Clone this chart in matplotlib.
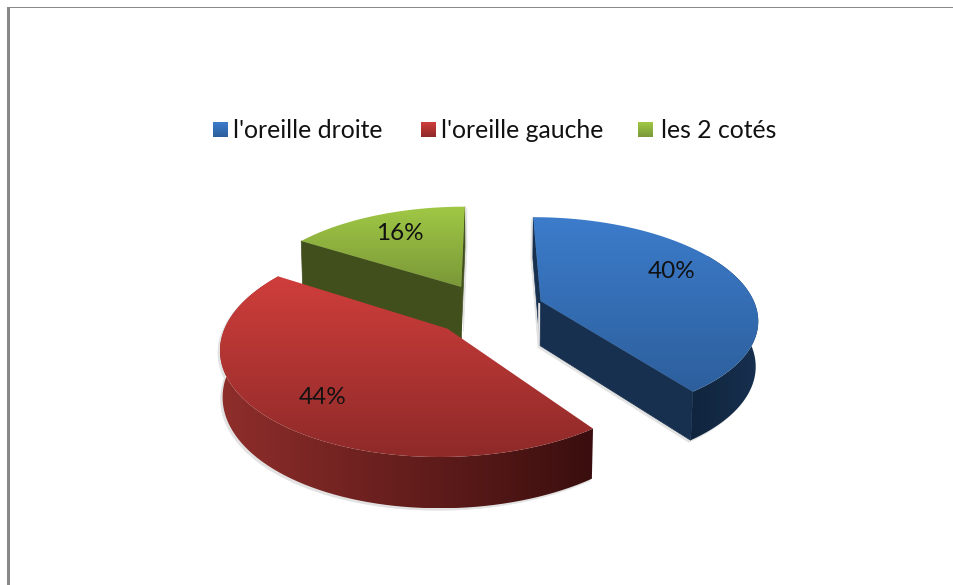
import numpy as np
import matplotlib
matplotlib.use("Agg")
import matplotlib.pyplot as plt
from matplotlib.colors import LinearSegmentedColormap
from matplotlib.patches import Polygon, Rectangle

labels = ["l'oreille droite", "l'oreille gauche", "les 2 cotés"]
values = [40, 44, 16]

plt.rcParams["font.family"] = ["Lato", "DejaVu Sans"]

# projection of the pie plane onto the picture, in pixels
CX, CY = 487.5, 309
RX, RY = 216, 100
PERSP = 0.164
EXPLODE = 0.262
HEIGHT = 45


def project(x, y):
    s = 1 / (1 + PERSP * y)
    return CX + RX * x * s, CY - RY * y * s, s


def rim(theta, off):
    t = np.radians(theta)
    return project(off[0] + np.sin(t), off[1] + np.cos(t))


def drop(sx, sy, s, extra=0):
    return sx - 2 * (sx - CX) / 218 * s, sy + HEIGHT * s ** 0.6 + extra


def gradient(ax, poly, colors, vertical=True):
    cmap = LinearSegmentedColormap.from_list("g", colors)
    ramp = np.linspace(0, 1, 256)
    img = ramp[:, None] if vertical else ramp[None, :]
    x0, y0 = poly.min(axis=0)
    x1, y1 = poly.max(axis=0)
    im = ax.imshow(img, cmap=cmap, origin="upper", aspect="auto",
                   extent=(x0, x1, y1, y0), interpolation="bilinear", zorder=ax.zcount)
    clip = Polygon(poly, closed=True, transform=ax.transData, fc="none", ec="none")
    ax.add_patch(clip)
    im.set_clip_path(clip)
    ax.zcount += 1


def flat(ax, poly, color):
    ax.add_patch(Polygon(poly, closed=True, fc=color, ec=color, lw=0.5, zorder=ax.zcount))
    ax.zcount += 1


def wall(off, theta, extra=0):
    ax0, ay0, s0 = project(off[0], off[1])
    ax1, ay1, s1 = rim(theta, off)
    b0 = drop(ax0, ay0, s0, extra)
    b1 = drop(ax1, ay1, s1, extra)
    return np.array([(ax0, ay0), (ax1, ay1), b1, b0])


def rim_band(off, t0, t1):
    th = np.linspace(t0, t1, 80)
    sx, sy, s = rim(th, off)
    bx, by = drop(sx, sy, s)
    return np.vstack([np.c_[sx, sy], np.c_[bx, by][::-1]])


def top_face(off, t0, t1):
    th = np.linspace(t0, t1, 120)
    sx, sy, s = rim(th, off)
    ax0, ay0, _ = project(off[0], off[1])
    return np.vstack([[(ax0, ay0)], np.c_[sx, sy]])


fig = plt.figure(figsize=(9.54, 5.85), dpi=100)
ax = fig.add_axes([0, 0, 1, 1])
ax.zcount = 3

# slice angles, clockwise from the back of the pie
edges = np.cumsum([0] + values) * 3.6
bounds = list(zip(edges[:-1], edges[1:]))
offsets = []
for t0, t1 in bounds:
    mid = np.radians((t0 + t1) / 2)
    offsets.append((EXPLODE * np.sin(mid), EXPLODE * np.cos(mid)))

top_colors = [["#3c7ccb", "#2d5f9c"], ["#cf3e3b", "#8e2a29"], ["#a0c845", "#7a9838"]]
rim_colors = [["#10253d", "#17304f"], ["#8f2e2b", "#3a0e0e"], ["#414f1c", "#414f1c"]]
cut_colors = ["#17304f", "#5a1a18", "#414f1c"]
SHADOW = "#e2e2e2"

# far slices first so the red one sits over the green wall
for i in [2, 0, 1]:
    t0, t1 = bounds[i]
    off = offsets[i]

    band = rim_band(off, t0 + 60, t1) if i == 0 else rim_band(off, t0, t1)
    if i != 2:
        flat(ax, band + (-2, 2), SHADOW)
        gradient(ax, band, rim_colors[i], vertical=False)
    if i == 0:
        w = wall(off, t0)
        flat(ax, w + (-2, 1), SHADOW)
        flat(ax, w, cut_colors[0])
        w = wall(off, t1)
        flat(ax, w + (-2, 2), SHADOW)
        flat(ax, w, cut_colors[0])
    if i == 2:
        flat(ax, wall(off, t1) + (2, 1), SHADOW)
        flat(ax, wall(off, t1), cut_colors[2])
        flat(ax, wall(off, t0, extra=8), cut_colors[2])

    gradient(ax, top_face(off, t0, t1), top_colors[i])

# percentage labels
pct_pos = [(672, 272), (323, 397), (400, 233)]
for v, (x, y) in zip(values, pct_pos):
    ax.text(x, y, f"{v}%", ha="center", va="center", fontsize=17.5, color="#111111", zorder=50)

# legend
swatch_x = [213, 421, 638]
text_x = [233, 441, 661]
for i, lab in enumerate(labels):
    sq = np.array([(swatch_x[i], 122), (swatch_x[i] + 15, 122),
                   (swatch_x[i] + 15, 137), (swatch_x[i], 137)])
    gradient(ax, sq, top_colors[i])
    ax.text(text_x[i], 131, lab, ha="left", va="center", fontsize=17.8, color="#111111", zorder=50)

# frame left by the screenshot
ax.add_patch(Rectangle((7, 7), 3, 578, fc="#888888", ec="none", zorder=60))
ax.add_patch(Rectangle((7, 7), 947, 1.2, fc="#888888", ec="none", zorder=60))

ax.set_xlim(0, 954)
ax.set_ylim(585, 0)
ax.axis("off")
fig.savefig("out.png", dpi=100, facecolor="white")
